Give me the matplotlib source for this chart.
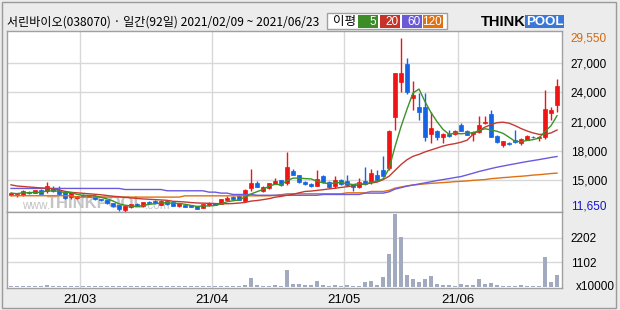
import numpy as np
import pandas as pd
import matplotlib
matplotlib.use("Agg")
import matplotlib.pyplot as plt
from matplotlib.patches import Rectangle

plt.rcParams['font.family'] = ['Liberation Sans', 'Noto Sans CJK KR', 'DejaVu Sans']

# 서린바이오(038070) 일간 2021/02/09 ~ 2021/06/23, 92 거래일
opens = [13430, 13500, 13430, 13750, 13730, 14040, 13840, 14210, 13970, 13770,
         13320, 13120, 13450, 13290, 13390, 13050, 12980, 12680, 12400, 11960,
         12230, 12600, 12370, 12780, 12910, 12470, 12850, 12710, 12300, 12400,
         12440, 12300, 12130, 12400, 12640, 12570, 13000, 13300, 13390, 12880,
         14210, 14660, 13870, 14150, 14620, 15000, 14660, 15990, 15480, 14860,
         14620, 14450, 15380, 14860, 14350, 15030, 14930, 14620, 14280, 14960,
         14760, 15550, 16060, 16230, 21460, 25050, 26970, 23480, 22560, 22560,
         19720, 20060, 19480, 19750, 19720, 20670, 20060, 19720, 19920, 20850,
         21800, 19550, 18560, 18860, 19140, 18790, 19140, 19480, 19310, 19380,
         21940, 22730]
highs = [13750, 13650, 13980, 13850, 14000, 14100, 14790, 14420, 14350, 13800,
         13800, 13400, 13600, 13500, 13450, 13100, 13000, 12700, 12450, 12350,
         12600, 12650, 12750, 12850, 12950, 12950, 12900, 12750, 12650, 12450,
         12450, 12350, 12560, 12750, 12700, 13100, 13350, 13350, 13500, 14100,
         16160, 14900, 14350, 14750, 15200, 15050, 17870, 16100, 15500, 14900,
         14700, 16060, 15550, 14950, 15380, 15140, 15480, 14650, 15200, 16400,
         16130, 16060, 17500, 20100, 26000, 29550, 27510, 25190, 23920, 23920,
         22040, 20100, 19800, 20160, 20100, 20910, 20100, 20050, 21600, 21600,
         22210, 19600, 19000, 18900, 20160, 19300, 19600, 19550, 19550, 24260,
         22560, 25390]
lows = [13350, 13320, 13400, 13600, 13700, 13560, 13700, 13800, 13500, 13100,
        13050, 13050, 13250, 13250, 12980, 12850, 12550, 12200, 11850, 11650,
        12150, 12350, 12250, 12600, 12600, 12450, 12500, 12300, 12200, 12200,
        12250, 12000, 12100, 12350, 12400, 12550, 12950, 12950, 12950, 12850,
        13900, 14250, 13800, 14100, 14600, 14400, 14520, 15500, 14700, 14550,
        14300, 14400, 14700, 14180, 14180, 14550, 14450, 13900, 14200, 14550,
        14590, 14950, 15400, 16060, 20160, 24090, 23820, 22210, 21190, 19030,
        18860, 19140, 18790, 19450, 19650, 20000, 19600, 18970, 19850, 20800,
        19400, 18850, 18450, 18650, 18850, 18620, 19100, 19300, 19070, 19270,
        21190, 22040]
closes = [13670, 13560, 13900, 13700, 13970, 13600, 14350, 13870, 13530, 13150,
          13770, 13360, 13400, 13430, 13050, 12920, 12610, 12300, 11990, 12300,
          12570, 12370, 12710, 12650, 12640, 12880, 12570, 12330, 12610, 12260,
          12260, 12060, 12540, 12640, 12500, 13050, 13150, 13100, 13000, 14010,
          14660, 14320, 14250, 14690, 14930, 14490, 16370, 15550, 14760, 14620,
          14350, 15140, 14760, 14280, 15030, 14620, 14520, 14280, 14790, 14620,
          15720, 15030, 15440, 20060, 25970, 25970, 24030, 23750, 22040, 19480,
          20400, 19380, 19750, 19550, 20060, 20060, 19650, 19990, 20670, 21020,
          19480, 18900, 18970, 18690, 18900, 19270, 19550, 19380, 19480, 22320,
          22210, 24680]
# 거래량 (x10000)
volumes = [35, 30, 40, 30, 35, 40, 90, 40, 35, 30, 35, 30, 30, 30, 35, 30,
           30, 35, 40, 35, 30, 30, 30, 30, 30, 30, 30, 30, 30, 30, 30, 30,
           35, 30, 30, 40, 35, 30, 35, 90, 400, 90, 40, 40, 90, 40, 760, 135,
           135, 90, 75, 270, 90, 60, 75, 60, 75, 45, 45, 240, 270, 90, 450,
           1475, 3260, 2220, 535, 360, 225, 340, 490, 135, 90, 90, 45, 135,
           90, 90, 360, 135, 195, 90, 45, 45, 45, 90, 45, 45, 45, 1340, 240,
           535]
ma20 = [14520, 14400, 14350, 14300, 14250, 14200, 14180, 14100, 14000, 13850,
        13750, 13700, 13650, 13600, 13550, 13500, 13420, 13350, 13300, 13230,
        13180, 13120, 13070, 13040, 13000, 12970, 12930, 12830, 12800, 12760,
        12700, 12660, 12640, 12620, 12600, 12580, 12580, 12600, 12650, 12710,
        12850, 12910, 13000, 13100, 13250, 13330, 13450, 13550, 13700, 13840,
        13880, 13950, 14020, 14100, 14170, 14250, 14330, 14420, 14520, 14600,
        14700, 14800, 15050, 15400, 16000, 16600, 17100, 17450, 17650, 17900,
        18100, 18300, 18500, 18650, 18750, 18900, 19100, 19700, 20100, 20450,
        20700, 20900, 20950, 20850, 20600, 20300, 20050, 19850, 19700, 19700,
        19850, 20150]
ma60 = [14150] * 19 + [14040] * 7 + [13910] * 7 + [13770] * 2 + [13670] * 2 + \
       [13530] * 4 + [13450] * 11 + [13530] * 7 + [13670] * 4 + \
       [13800, 14080, 14230, 14380, 14500, 14610, 14720, 14840, 14960, 15060,
        15160, 15270, 15370, 15540, 15710, 15890, 16040, 16190, 16330, 16450,
        16570, 16680, 16800, 16910, 17010, 17110, 17220, 17330, 17430]
ma120 = [13400] * 11 + [13260] * 18 + [13390] * 15 + [13430, 13500] + \
        [13600] * 10 + [13700] * 4 + [13840] * 3 + \
        [13950, 14180, 14300, 14420, 14500, 14560, 14620, 14670, 14710, 14750,
         14790, 14850, 14880, 14920, 14980, 15020, 15060, 15150, 15200, 15260,
         15300, 15360, 15400, 15450, 15520, 15560, 15620, 15680, 15720]

month_labels = ['21/03', '21/04', '21/05', '21/06']
month_first_idx = [12, 34, 56, 75]
price_ticks = [15000, 18000, 21000, 24000, 27000]
vol_ticks = [1102, 2202]
price_max_label = 29550
price_min_label = 11650

W, H = 620, 310


def fx(x):
    return x / W


def fy(y):
    return 1 - y / H


def box(x0, y0, x1, y1, **kw):
    fig.add_artist(Rectangle((fx(x0), fy(y1)), fx(x1) - fx(x0), fy(y0) - fy(y1),
                             transform=fig.transFigure, **kw))


fig = plt.figure(figsize=(6.2, 3.1), dpi=100, facecolor='#ececec')
ax = fig.add_axes([fx(7), fy(212.3), fx(562) - fx(7), fy(31) - fy(212.3)])
axv = fig.add_axes([fx(7), fy(288), fx(562) - fx(7), fy(212.3) - fy(288)], sharex=ax)

o = np.array(opens)
h = np.array(highs)
l = np.array(lows)
c = np.array(closes)
x = np.arange(len(c))
ma5 = pd.Series(c).rolling(5, min_periods=1).mean()

col = np.where(c >= o, '#f01414', '#1464e6')
ax.vlines(x, l, h, colors=col, lw=1, zorder=3)
ax.bar(x, np.maximum(np.abs(c - o), 60), bottom=np.minimum(o, c), width=0.68,
       color=col, edgecolor=col, lw=0.5, zorder=4)

ax.plot(x, ma120, color='#e07010', lw=1, zorder=5)
ax.plot(x, ma60, color='#6a5ae0', lw=1, zorder=5)
ax.plot(x, ma20, color='#c43a30', lw=1, zorder=5)
ax.plot(x, ma5, color='#3c9228', lw=1, zorder=5)

axv.bar(x, volumes, width=0.72, color='#a2aac0', zorder=3)

grid_x = [i - 0.45 for i in month_first_idx]
for g in grid_x:
    ax.axvline(g, color='#d8d8d8', lw=1, zorder=0)
    axv.axvline(g, color='#d8d8d8', lw=1, zorder=0)
for p in price_ticks:
    ax.axhline(p, color='#d8d8d8', lw=1, zorder=0)
for v in vol_ticks:
    axv.axhline(v, color='#d8d8d8', lw=1, zorder=0)

ax.set_xlim(-0.67, 91.83)
ax.set_ylim(11700, 30313)
axv.set_ylim(-45, 3340)

for a in (ax, axv):
    a.set_facecolor('white')
    for s in a.spines.values():
        s.set_color('#a0a0a0')
        s.set_linewidth(1)
    a.yaxis.tick_right()
    a.tick_params(axis='y', length=0, pad=6.3, labelsize=8.5)

ax.set_yticks(price_ticks)
ax.set_yticklabels([f'{p:,}' for p in price_ticks])
ax.tick_params(axis='x', bottom=False, labelbottom=False)
axv.set_yticks(vol_ticks)
axv.set_yticklabels([str(v) for v in vol_ticks])
axv.set_xticks(grid_x)
axv.set_xticklabels(month_labels)
axv.tick_params(axis='x', length=0, pad=4, labelsize=9.5)

lab_x = 1 + 8.7 / 555
ax.text(lab_x, price_max_label, f'{price_max_label:,}', color='#d06a10', fontsize=8.5,
        va='center', ha='left', transform=ax.get_yaxis_transform())
ax.text(lab_x, 0.0, f'{price_min_label:,}', color='#1414c8', fontsize=8.5,
        va='bottom', ha='left', transform=ax.transAxes)
fig.text(fx(576), fy(286.5), 'x10000', fontsize=8.5, va='center', ha='left')

# watermark
ax.text(fx(22), fy(206), 'www.', transform=fig.transFigure, color='#c4c4c4',
        fontsize=8.5, va='center', zorder=1)
ax.text(fx(47), fy(203), 'THINKPOOL', transform=fig.transFigure, color='#c4c4c4',
        fontsize=12, fontweight='bold', va='center', zorder=1)
ax.text(fx(145), fy(206), '.com', transform=fig.transFigure, color='#c4c4c4',
        fontsize=8.5, va='center', zorder=1)

# header
fig.text(fx(7), fy(22.5), '서린바이오(038070) · 일간(92일) 2021/02/09 ~ 2021/06/23',
         fontsize=8.7, va='center', ha='left', family=['Noto Sans CJK KR', 'DejaVu Sans'])
box(327, 13.3, 447, 29.3, facecolor='white', edgecolor='#a0a0a0', lw=1)
fig.text(fx(333), fy(21.5), '이평', fontsize=9, va='center', ha='left',
         family=['Noto Sans CJK KR', 'DejaVu Sans'])
legend_items = [('5', '#3c8c28', 358, 378), ('20', '#c83228', 380, 400),
                ('60', '#6a5ad8', 402, 422), ('120', '#e07010', 423, 443)]
for lab, cc, x0, x1 in legend_items:
    box(x0, 15, x1, 28, facecolor=cc, edgecolor='none')
    fig.text(fx(x1 - 1.5), fy(21.7), lab, color='white', fontsize=8.5,
             va='center', ha='right')

fig.text(fx(481), fy(21.5), 'THINK', fontsize=10.5, fontweight='bold', va='center', ha='left')
box(525, 15, 564, 28, facecolor='#3a78d8', edgecolor='none')
fig.text(fx(544.5), fy(21.7), 'POOL', color='white', fontsize=9.5, fontweight='bold',
         va='center', ha='center')

box(1.5, 1.5, 615.5, 307.5, facecolor='none', edgecolor='#9a9a9a', lw=1)

fig.savefig('out.png', dpi=100, facecolor=fig.get_facecolor())
